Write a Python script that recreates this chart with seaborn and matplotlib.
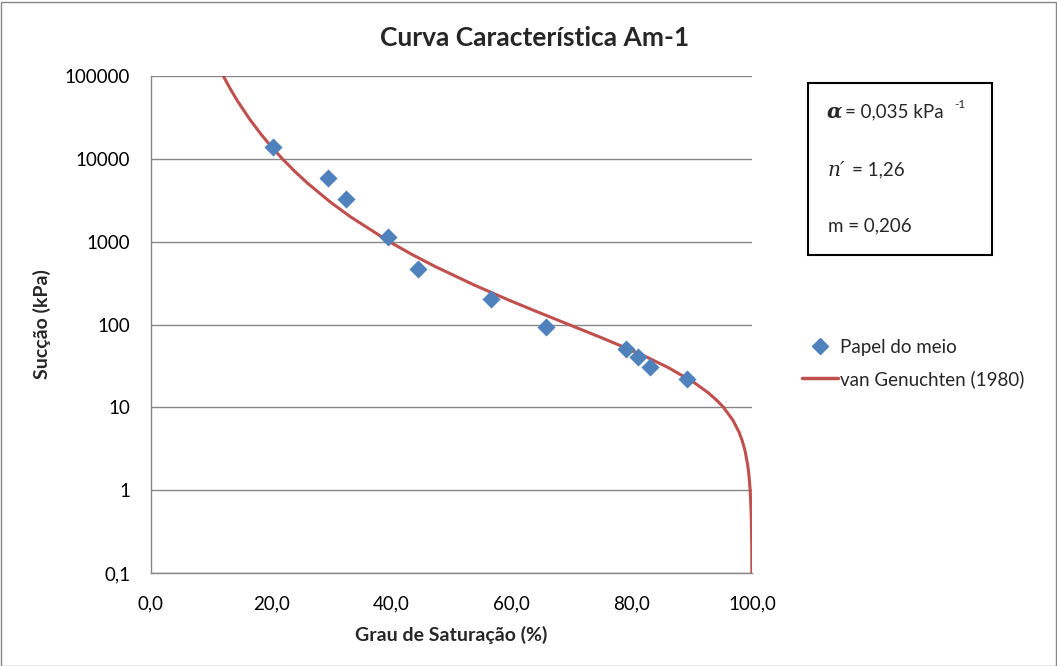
import matplotlib
matplotlib.use("Agg")
import matplotlib.pyplot as plt
import seaborn as sns
import pandas as pd
from matplotlib.patches import Rectangle
from matplotlib.lines import Line2D

# ---- data ----
sat_points = [20.3, 29.4, 32.4, 39.5, 44.4, 56.6, 65.8, 79.1, 81.1, 83.1, 89.2]
suction_points = [13900, 5900, 3300, 1130, 462, 206, 94, 50, 40, 31, 21.8]

curve_suction = [0.1, 0.2, 0.5, 1, 1.5, 2, 3, 4, 5, 7, 10, 12, 15, 20, 30, 40, 50,
                 70, 100, 150, 200, 300, 500, 700, 1000, 2000, 3000, 5000, 7000,
                 10000, 15000, 20000, 30000, 50000, 70000, 100000]
curve_sat = [99.98, 99.96, 99.87, 99.70, 99.50, 99.29, 98.84, 98.35, 97.85, 96.82,
             95.26, 94.22, 92.71, 90.33, 86.14, 82.61, 79.61, 74.80, 69.50, 63.49,
             59.33, 53.76, 47.31, 43.43, 39.65, 33.17, 29.86, 26.16, 23.97, 21.86,
             19.68, 18.26, 16.43, 14.39, 13.19, 12.03]

x_ticks = [0, 20, 40, 60, 80, 100]
x_ticklabels = ["0,0", "20,0", "40,0", "60,0", "80,0", "100,0"]
y_ticks = [0.1, 1, 10, 100, 1000, 10000, 100000]
y_ticklabels = ["0,1", "1", "10", "100", "1000", "10000", "100000"]

title = "Curva Característica Am-1"
xlabel = "Grau de Saturação (%)"
ylabel = "Sucção (kPa)"
series_labels = ["Papel do meio", "van Genuchten (1980)"]

sns.set_theme(style="white")
plt.rcParams['font.family'] = ['Lato', 'DejaVu Sans']

blue = "#4F81BD"
red = "#C0504D"
grid = "#868686"

fig = plt.figure(figsize=(10.57, 6.66), dpi=100)
ax = fig.add_axes([151/1057, 1 - 573/666, (752-151)/1057, (573-76)/666])

df_pts = pd.DataFrame({"sat": sat_points, "suc": suction_points})
df_curve = pd.DataFrame({"sat": curve_sat, "suc": curve_suction})

sns.lineplot(data=df_curve, x="sat", y="suc", sort=False, estimator=None,
             color=red, linewidth=2.2, ax=ax, zorder=3)
sns.scatterplot(data=df_pts, x="sat", y="suc", marker="D", s=85, color=blue,
                edgecolor=blue, linewidth=0, ax=ax, zorder=4)

ax.set_yscale("log")
ax.set_xlim(0, 100)
ax.set_ylim(0.1, 100000)
ax.set_xticks(x_ticks)
ax.set_xticklabels(x_ticklabels)
ax.set_yticks(y_ticks)
ax.set_yticklabels(y_ticklabels)
ax.minorticks_off()
ax.tick_params(axis="both", length=0, labelsize=13.5, colors="black")
ax.tick_params(axis="x", pad=16)
ax.tick_params(axis="y", pad=15)

for y in y_ticks:
    ax.axhline(y, color=grid, linewidth=1.0, zorder=1)

for s in ["top", "right"]:
    ax.spines[s].set_visible(False)
for s in ["left", "bottom"]:
    ax.spines[s].set_color(grid)
    ax.spines[s].set_linewidth(1.0)

ax.set_xlabel(xlabel, fontsize=14, fontweight="bold", labelpad=10)
ax.set_ylabel(ylabel, fontsize=14, fontweight="bold", labelpad=10)

fig.text(535/1057, 1 - 38/666, title, ha="center", va="center",
         fontsize=19, fontweight="bold")

# legend
handles = [Line2D([], [], marker="D", linestyle="none", color=blue, markersize=8),
           Line2D([], [], color=red, linewidth=2.5)]
fig.legend(handles, series_labels, loc="upper left",
           bbox_to_anchor=(785/1057, 1 - 322/666), frameon=False,
           fontsize=13.5, handlelength=1.9, handletextpad=0.15, labelspacing=0.75)

# parameter box
fig.patches.append(Rectangle((808/1057, 1 - 255/666), (992-808)/1057, (255-83)/666,
                             transform=fig.transFigure, fill=False,
                             edgecolor="black", linewidth=1.5))
fig.text(827/1057, 1 - 112/666, "α", family="DejaVu Serif", fontstyle="italic",
         fontweight="bold", fontsize=14.5, va="center")
fig.text(845/1057, 1 - 112/666, "= 0,035 kPa", fontsize=13.5, va="center")
fig.text(954/1057, 1 - 104/666, "-1", fontsize=8.5, va="center")
fig.text(828/1057, 1 - 170/666, "n′", family="DejaVu Serif", fontstyle="italic",
         fontsize=14.5, va="center")
fig.text(852/1057, 1 - 170/666, "= 1,26", fontsize=13.5, va="center")
fig.text(828/1057, 1 - 226/666, "m = 0,206", fontsize=13.5, va="center")

# outer chart border
fig.patches.append(Rectangle((0.5/1057, 0.5/666), 1055/1057, 664/666,
                             transform=fig.transFigure, fill=False,
                             edgecolor=grid, linewidth=1.0))

fig.savefig("out.png", dpi=100)
